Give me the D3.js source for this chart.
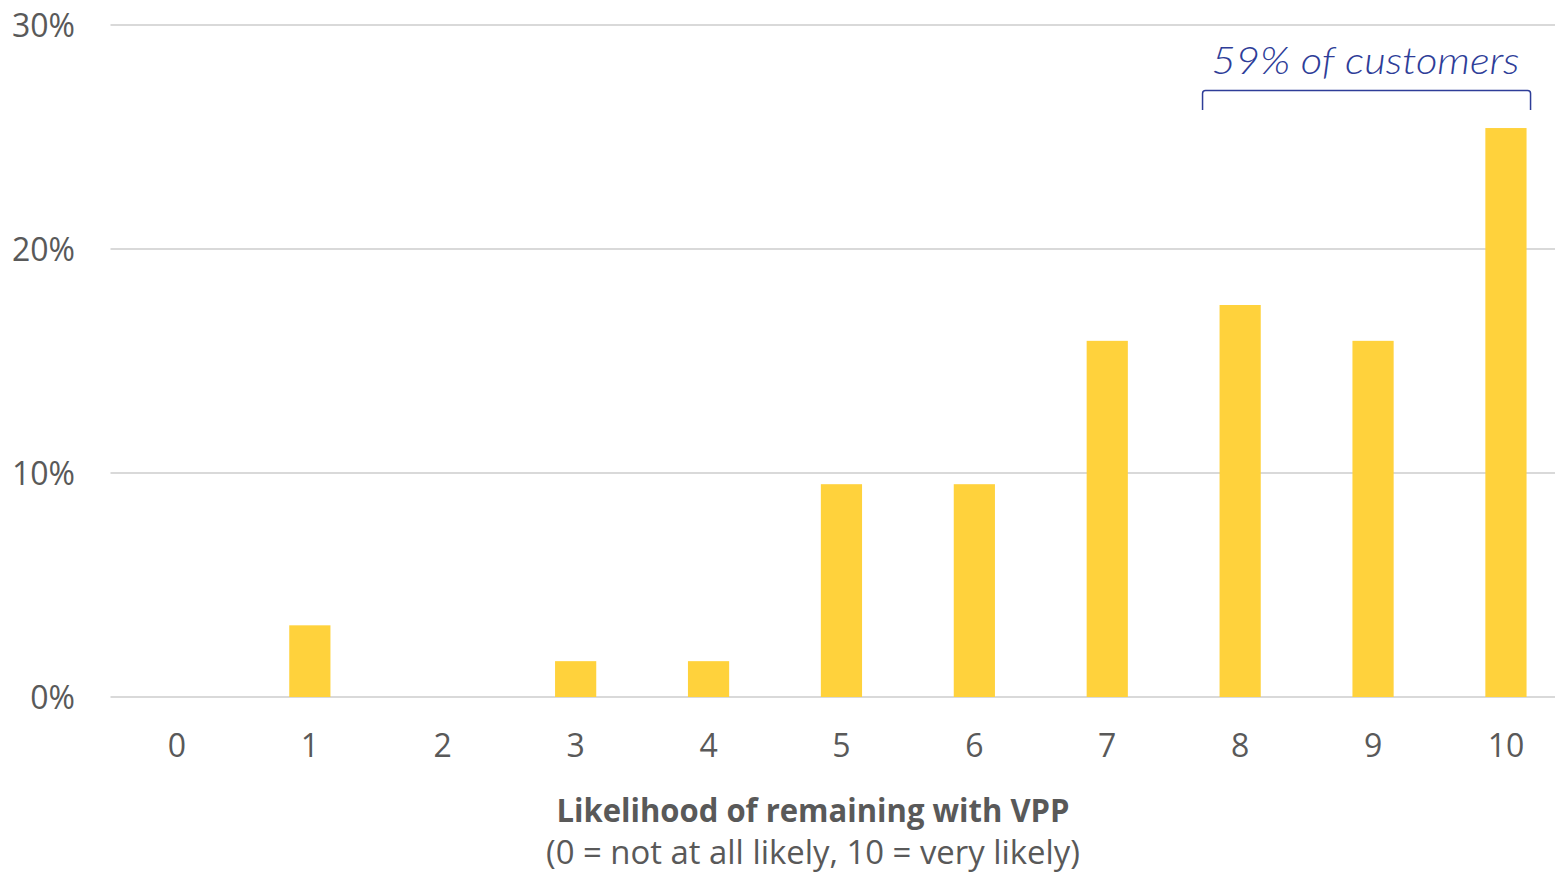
<!DOCTYPE html>
<html>
<head>
<meta charset="utf-8">
<script src="https://cdn.jsdelivr.net/npm/d3@7"></script>
<style>
  html, body { margin: 0; padding: 0; background: #fff; }
  svg { display: block; }
</style>
</head>
<body>
<svg id="chart" width="1555" height="875"></svg>
<script>
// Likelihood scores (0-10) and share of customers at each score (%)
const scores = ["0", "1", "2", "3", "4", "5", "6", "7", "8", "9", "10"];
const shares = [0, 3.2, 0, 1.6, 1.6, 9.5, 9.5, 15.9, 17.5, 15.9, 25.4];
const yTicks = [0, 10, 20, 30];
const bracketScores = ["8", "9", "10"];
const bracketLabel = "59% of customers";
const xTitle = "Likelihood of remaining with VPP";
const xSubtitle = "(0 = not at all likely, 10 = very likely)";

const svg = d3.select("#chart");
const margin = { left: 110.5, top: 25, bottom: 697 };
const bandStep = 132.9;
const labelFont = "'Open Sans', sans-serif";
const grey = "#595959";

const x = d3.scaleBand()
  .domain(scores)
  .range([margin.left, margin.left + bandStep * scores.length])
  .paddingInner(0.69)
  .paddingOuter(0.345);

const y = d3.scaleLinear().domain([0, 30]).range([margin.bottom, margin.top]);

// horizontal gridlines
svg.append("g")
  .selectAll("line")
  .data(yTicks)
  .join("line")
  .attr("x1", margin.left)
  .attr("x2", 1555)
  .attr("y1", d => y(d))
  .attr("y2", d => y(d))
  .attr("stroke", "#d9d9d9")
  .attr("stroke-width", 2);

// y-axis labels
const yAxis = d3.axisLeft(y).tickValues(yTicks).tickFormat(d => d + "%").tickSize(0).tickPadding(0);
svg.append("g")
  .attr("transform", `translate(75,0)`)
  .call(yAxis)
  .call(g => g.select(".domain").remove())
  .call(g => g.selectAll("text")
    .attr("font-family", labelFont)
    .attr("font-size", 32)
    .attr("fill", grey)
    .attr("dy", "0.36em"));

// bars
svg.append("g")
  .selectAll("rect")
  .data(scores.map((s, i) => ({ s, v: shares[i] })))
  .join("rect")
  .attr("x", d => x(d.s))
  .attr("width", x.bandwidth())
  .attr("y", d => y(d.v))
  .attr("height", d => y(0) - y(d.v))
  .attr("fill", "#FFD23C");

// x-axis labels
const xAxis = d3.axisBottom(x).tickSize(0).tickPadding(0);
svg.append("g")
  .attr("transform", `translate(0,${margin.bottom})`)
  .call(xAxis)
  .call(g => g.select(".domain").remove())
  .call(g => g.selectAll("text")
    .attr("font-family", labelFont)
    .attr("font-size", 32)
    .attr("fill", grey)
    .attr("dy", null)
    .attr("y", 60));

// axis title
svg.append("text")
  .attr("x", 813)
  .attr("y", 822)
  .attr("text-anchor", "middle")
  .attr("font-family", labelFont)
  .attr("font-weight", "bold")
  .attr("font-size", 33)
  .attr("fill", grey)
  .attr("textLength", 513)
  .attr("lengthAdjust", "spacingAndGlyphs")
  .text(xTitle);

svg.append("text")
  .attr("x", 813)
  .attr("y", 864)
  .attr("text-anchor", "middle")
  .attr("font-family", labelFont)
  .attr("font-size", 32)
  .attr("fill", grey)
  .attr("textLength", 534)
  .attr("lengthAdjust", "spacingAndGlyphs")
  .text(xSubtitle);

// bracket over the top three scores
const bx0 = x(bracketScores[0]) - 17;
const bx1 = x(bracketScores[bracketScores.length - 1]) + x.bandwidth() + 4;
const bTop = 90.5, bBot = 110;
svg.append("path")
  .attr("d", `M${bx0},${bBot} L${bx0},${bTop + 3} Q${bx0},${bTop} ${bx0 + 3},${bTop} L${bx1 - 3},${bTop} Q${bx1},${bTop} ${bx1},${bTop + 3} L${bx1},${bBot}`)
  .attr("fill", "none")
  .attr("stroke", "#2E3D98")
  .attr("stroke-width", 1.5);

svg.append("text")
  .attr("x", (bx0 + bx1) / 2 - 1)
  .attr("y", 74)
  .attr("text-anchor", "middle")
  .attr("font-family", "Lato, sans-serif")
  .attr("font-style", "italic")
  .attr("font-weight", 300)
  .attr("font-size", 38)
  .attr("fill", "#2E3D98")
  .attr("textLength", 308)
  .attr("lengthAdjust", "spacingAndGlyphs")
  .text(bracketLabel);
</script>
</body>
</html>
